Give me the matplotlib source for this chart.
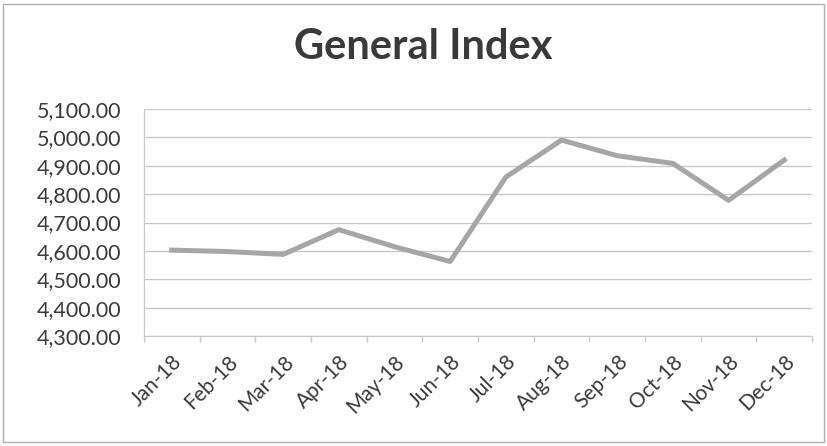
import matplotlib
matplotlib.use('Agg')
import matplotlib.pyplot as plt
import matplotlib.transforms as mtransforms
from matplotlib.ticker import FuncFormatter
from matplotlib.patches import Rectangle

months = ['Jan-18', 'Feb-18', 'Mar-18', 'Apr-18', 'May-18', 'Jun-18',
          'Jul-18', 'Aug-18', 'Sep-18', 'Oct-18', 'Nov-18', 'Dec-18']
index_values = [4603, 4598, 4588, 4675, 4615, 4563,
                4860, 4990, 4935, 4908, 4778, 4920]
y_ticks = [4300, 4400, 4500, 4600, 4700, 4800, 4900, 5000, 5100]

plt.rcParams['font.family'] = ['Lato', 'DejaVu Sans']

fig = plt.figure(figsize=(8.27, 4.46), dpi=100)
ax = fig.add_axes([0.174, 0.246, 0.808, 0.51])

x = range(len(months))
ax.plot(x, index_values, color='#a6a6a6', linewidth=3.6, solid_joinstyle='round')

ax.set_xlim(-0.5, len(months) - 0.5)
ax.set_ylim(y_ticks[0], y_ticks[-1])
ax.set_yticks(y_ticks)
ax.yaxis.set_major_formatter(FuncFormatter(lambda v, p: f'{v:,.2f}'))
ax.set_xticks(list(x))
ax.set_xticklabels(months, rotation=45, ha='right', rotation_mode='anchor')
# tick marks between categories
ax.set_xticks([i - 0.5 for i in range(len(months) + 1)], minor=True)

shift = mtransforms.ScaledTranslation(-4 / 72, 0, fig.dpi_scale_trans)
for lbl in ax.get_xticklabels():
    lbl.set_transform(lbl.get_transform() + shift)

ax.grid(True, axis='y', color='#c8c8c8', linewidth=1)
ax.set_axisbelow(True)
for s in ['top', 'right']:
    ax.spines[s].set_visible(False)
ax.spines['left'].set_color('#c8c8c8')
ax.spines['bottom'].set_color('#c8c8c8')
ax.tick_params(axis='y', length=0, labelsize=15.5, labelcolor='#3a3a3a', pad=16)
ax.tick_params(axis='x', which='major', length=0, labelsize=15, labelcolor='#3a3a3a', pad=11)
ax.tick_params(axis='x', which='minor', length=4, color='#c8c8c8', width=1)

fig.text(0.512, 0.895, 'General Index', ha='center', va='center',
         fontsize=30, fontweight='bold', color='#3a3a3a')

fig.patches.append(Rectangle((0.004, 0.01), 0.992, 0.98, transform=fig.transFigure,
                             fill=False, edgecolor='#b0b0b0', linewidth=1))

fig.savefig('out.png', dpi=100)
